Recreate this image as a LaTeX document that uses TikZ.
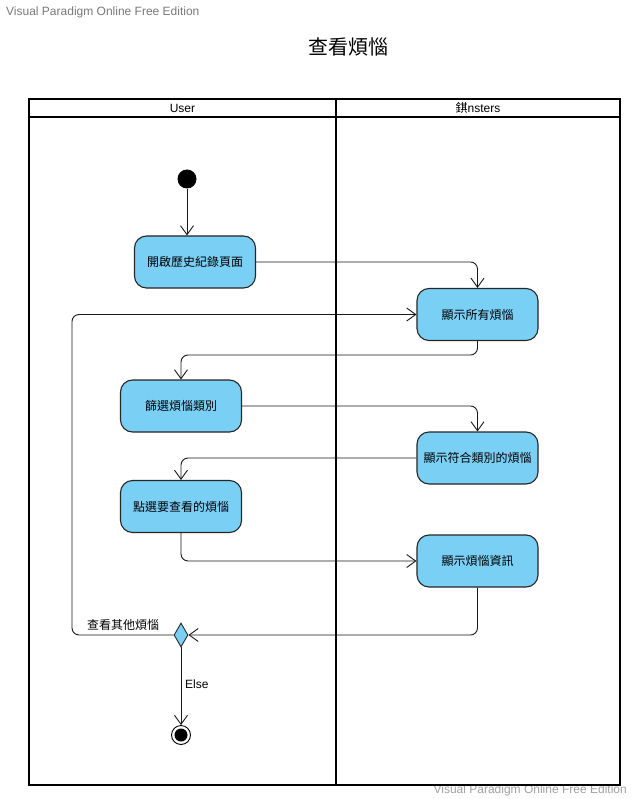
\documentclass[tikz,border=0pt]{standalone}
\usepackage{fontspec}
\setmainfont{Liberation Sans}
\newfontfamily\cjk{Noto Sans CJK TC}
\usetikzlibrary{arrows.meta,shapes.geometric}
\definecolor{actblue}{RGB}{122,207,245}
\definecolor{wmgray}{RGB}{120,120,120}
\tikzset{
  act/.style={draw=black!85, line width=1.1pt, fill=actblue, rounded corners=12pt,
    minimum width=121pt, minimum height=52pt, font=\cjk\fontsize{12}{14}\selectfont, inner sep=0pt},
  flow/.style={draw=black!90, line width=0.9pt, rounded corners=7pt,
    -{Straight Barb[length=9pt,width=13pt,line width=0.9pt]}},
  lane/.style={draw=black, line width=1.6pt},
  wm/.style={text=wmgray, font=\fontsize{12}{14}\selectfont, inner sep=0pt},
}
\begin{document}
\begin{tikzpicture}[x=1pt,y=-1pt]
\useasboundingbox (0,0) rectangle (632,799);
% watermarks
\node[wm, anchor=west] (wm1) at (6,12) {Visual Paradigm Online Free Edition};
\node[wm, anchor=east, text=wmgray!70] (wm2) at (627,790) {Visual Paradigm Online Free Edition};
% title
\node[font=\cjk\fontsize{20}{22}\selectfont] (title) at (348,47) {查看煩惱};
% swimlanes
\draw[lane, fill=white] (29,99) rectangle (620,785);
\draw[lane] (29,117) -- (620,117);
\draw[lane] (336,99) -- (336,785);
\node[font=\fontsize{12}{14}\selectfont] (lane1) at (182.5,108) {User};
\node[font=\fontsize{12}{14}\selectfont] (lane2) at (478,108) {{\cjk 錤}nsters};
% nodes
\node[circle, fill=black, minimum size=19pt, inner sep=0pt] (start) at (187,179) {};
\node[act] (A) at (195,262) {開啟歷史紀錄頁面};
\node[act] (B) at (477.5,314.5) {顯示所有煩惱};
\node[act] (C) at (181,406) {篩選煩惱類別};
\node[act] (D) at (477.5,458) {顯示符合類別的煩惱};
\node[act] (E) at (181,506.5) {點選要查看的煩惱};
\node[act] (F) at (477.5,561) {顯示煩惱資訊};
\node[diamond, draw=black!85, line width=0.9pt, fill=actblue, minimum width=14pt, minimum height=24pt, inner sep=0pt, aspect=0.58] (G) at (181,635) {};
\node[circle, draw=black, line width=0.9pt, minimum size=19pt, inner sep=0pt] (end) at (181,735) {};
\node[circle, fill=black, minimum size=13pt, inner sep=0pt] (endin) at (181,735) {};
% connectors
\draw[flow] (start) -- (A.north -| start);
\draw[flow] (A.east) -| (B.north);
\draw[flow] (G.west) -- (72,635) |- (B.west);
\draw[flow] (B.south) |- (181,355) -- (C.north);
\draw[flow] (C.east) -| (D.north);
\draw[flow] (D.west) -| (E.north);
\draw[flow] (E.south) |- (F.west);
\draw[flow] (F.south) |- (G.east);
\draw[flow] (G.south) -- (end.north);
% labels
\node[font=\cjk\fontsize{12}{14}\selectfont, anchor=west, inner sep=0pt] (lbl1) at (87,625) {查看其他煩惱};
\node[font=\fontsize{12}{14}\selectfont, anchor=west, inner sep=0pt] (lbl2) at (185,684) {Else};
\end{tikzpicture}
\end{document}
